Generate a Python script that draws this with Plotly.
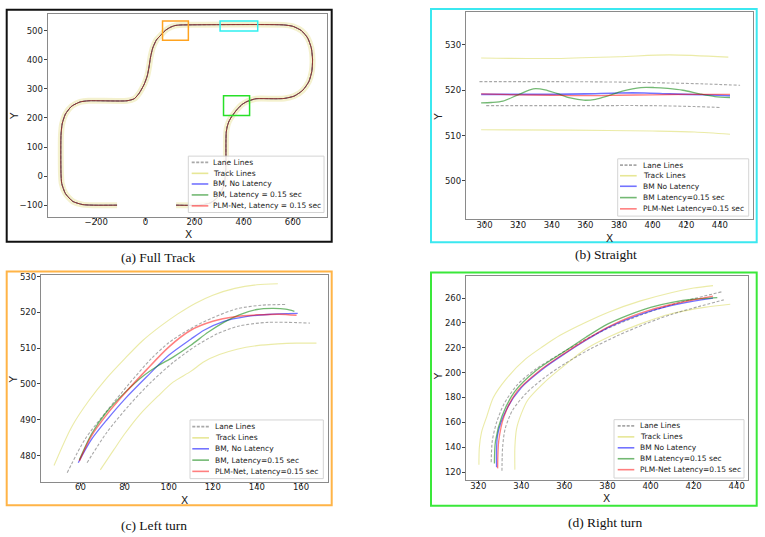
import plotly.graph_objects as go

W, H = 765, 537

# ---------------- DATA ----------------
# (a) Full track - centre line of the road
TRACK_A_X = [-115, -210, -255, -295, -325, -340, -343, -343, -338, -325, -300, -265, -230,
             -75, -45, -25, -5, 8, 15, 21, 30, 45, 60, 80, 100, 120, 140, 160,
             560, 600, 635, 660, 675, 680, 677, 665, 640, 605, 565, 530,
             450, 429, 410, 390, 370, 350, 340, 333, 329, 328, 327, 320, 300, 265, 220, 125]
TRACK_A_Y = [-100, -100, -98, -87, -60, -25, 10, 140, 180, 213, 240, 255, 259,
             259, 266, 285, 315, 345, 375, 408, 440, 468, 482, 500, 511, 517.5, 519.5, 520,
             520, 515, 500, 475, 440, 400, 360, 325, 295, 275, 267, 266,
             266, 261, 255, 244, 226, 203, 188, 170, 150, 124, 20, -30, -68, -92, -100, -100]
# zoom windows drawn on (a): x0, x1, y0, y1
BOX_LEFT = [70, 175, 467, 533]
BOX_STRAIGHT = [304, 457, 499, 533]
BOX_RIGHT = [318, 424, 208, 276]

# (b) Straight
B_LANE_UP_X = [297, 340, 380, 410, 430, 452]
B_LANE_UP_Y = [521.9, 521.9, 521.8, 521.6, 521.4, 521.1]
B_LANE_LO_X = [301, 350, 400, 425, 440]
B_LANE_LO_Y = [516.6, 516.6, 516.6, 516.4, 516.2]
B_TRACK_UP_X = [298, 340, 380, 410, 445]
B_TRACK_UP_Y = [527.1, 527.0, 527.4, 527.8, 527.3]
B_TRACK_LO_X = [298, 350, 400, 425, 446]
B_TRACK_LO_Y = [511.3, 511.2, 511.0, 510.8, 510.3]
B_BLUE_X = [298, 320, 340, 360, 380, 395, 410, 430, 446]
B_BLUE_Y = [519.1, 519.1, 519.1, 519.2, 519.4, 519.4, 519.2, 519.0, 518.8]
B_GREEN_X = [298, 304, 311, 320, 329, 336, 343, 351, 359, 366, 373, 382, 393, 401, 409, 418, 428, 437, 446]
B_GREEN_Y = [517.2, 517.3, 517.6, 519.0, 520.3, 520.1, 519.3, 518.3, 517.8, 518.0, 518.7, 519.8,
             520.6, 520.6, 520.4, 520.0, 519.2, 518.6, 518.4]
B_RED_X = [298, 320, 340, 360, 380, 400, 420, 446]
B_RED_Y = [519.2, 519.0, 518.9, 518.8, 518.9, 519.0, 519.1, 519.1]

# (c) Left turn
C_TRACK_UP_X = [48, 56, 64, 72, 80, 88, 96, 104, 112, 120, 130, 140, 149.5]
C_TRACK_UP_Y = [477.2, 488, 495.5, 501.7, 507, 512, 516, 519.5, 522.5, 524.8, 526.7, 527.7, 528]
C_TRACK_LO_X = [69, 75, 80, 87, 95, 102, 110, 116, 123, 131, 140, 149.5, 158, 167]
C_TRACK_LO_Y = [476, 481.5, 486, 491.5, 496.5, 500.5, 503.5, 506.2, 508.2, 509.7, 510.7, 511.2, 511.4, 511.4]
C_LANE_UP_X = [54, 62, 72, 82, 92, 100, 110, 120, 131, 142, 153]
C_LANE_UP_Y = [475.2, 484.5, 492.5, 500, 507, 511.5, 515.5, 518.5, 521, 522, 522.2]
C_LANE_LO_X = [63, 72, 82, 92, 102, 112, 122, 132, 145, 164]
C_LANE_LO_Y = [478, 486.5, 494, 500.5, 506, 510.5, 514, 516.2, 517.2, 517]
C_BLUE_X = [59, 65, 72, 80, 90, 100, 110, 116, 125, 135, 145, 158.5]
C_BLUE_Y = [478, 484.5, 490, 495.7, 502, 508, 512.5, 515, 517.5, 518.8, 519.4, 519.7]
C_GREEN_X = [59.5, 65, 72, 80, 88, 95, 102, 110, 118, 125, 132, 140, 147, 153, 157]
C_GREEN_Y = [478.8, 486, 492.3, 497.5, 502, 505, 507.5, 510.8, 514.5, 517.2, 519.3, 520.8, 521.1, 520.9, 520.3]
C_RED_X = [59.5, 65, 72, 80, 90, 100, 110, 120, 130, 140, 150, 158]
C_RED_Y = [478.5, 485.5, 491.5, 497.3, 504, 510.3, 515, 517.5, 518.8, 519.3, 519.5, 519.2]

# (d) Right turn
D_TRACK_UP_X = [320.3, 320.5, 321.5, 324, 327, 333, 342, 350, 358, 370, 381, 395, 410, 420, 429]
D_TRACK_UP_Y = [126, 140, 152, 165, 180, 195, 211, 221, 230, 240.5, 249, 257.5, 264.5, 268, 270]
D_TRACK_LO_X = [337, 337, 337.8, 340, 343, 350, 358, 370, 381, 395, 410, 425, 437]
D_TRACK_LO_Y = [122, 140, 155, 167, 178, 191, 203, 219, 229, 239, 247.5, 252.5, 255]
D_LANE_UP_X = [326, 326.5, 328.5, 332, 338, 346, 356, 368, 380, 392, 405, 418, 433]
D_LANE_UP_Y = [128, 145, 160, 175, 190, 202, 213, 225, 235.5, 244, 252, 258.5, 265]
D_LANE_LO_X = [331, 331.3, 332.5, 336, 342, 350, 360, 372, 385, 398, 410, 422, 434]
D_LANE_LO_Y = [121, 140, 155, 170, 183, 195, 207, 219, 230, 239.5, 247, 253, 258.5]
D_BLUE_X = [328.5, 329, 333, 340, 350, 360, 370, 380, 390, 400, 410, 420, 429]
D_BLUE_Y = [124, 150, 170, 188, 203, 215, 226, 236, 243.5, 249.5, 254, 257.5, 260]
D_GREEN_X = [327.5, 328, 331, 337, 347, 360, 370, 380, 390, 400, 410, 420, 431]
D_GREEN_Y = [127, 145, 165, 185, 202, 217, 228.5, 239, 246.5, 252.5, 256.5, 259, 260.3]
D_RED_X = [329, 329.5, 332, 338, 348, 360, 370, 380, 390, 400, 410, 420, 429]
D_RED_Y = [123, 145, 165, 185, 201, 215.5, 226.5, 236.5, 244.5, 250.5, 255, 258.5, 261.5]

LEGEND_A = ["Lane Lines", "Track Lines", "BM, No Latency", "BM, Latency = 0.15 sec",
            "PLM-Net, Latency = 0.15 sec"]
LEGEND_B = ["Lane Lines", "Track Lines", "BM No Latency", "BM Latency=0.15 sec",
            "PLM-Net Latency=0.15 sec"]
LEGEND_C = ["Lane Lines", "Track Lines", "BM, No Latency", "BM, Latency=0.15 sec",
            "PLM-Net, Latency=0.15 sec"]
LEGEND_D = ["Lane Lines", "Track Lines", "BM No Latency", "BM Latency=0.15 sec",
            "PLM-Net Latency=0.15 sec"]
CAPTIONS = ["(a) Full Track", "(b) Straight", "(c) Left turn", "(d) Right turn"]

# ---------------- STYLE ----------------
C_LANE = "rgba(110,110,110,0.6)"
C_TRACK = "rgba(215,215,80,0.5)"
C_BLUE = "rgba(0,0,255,0.55)"
C_GREEN = "rgba(0,128,0,0.55)"
C_RED = "rgba(255,0,0,0.5)"
SANS = "DejaVu Sans"


def fx(px):
    return px / W


def fy(py):
    return 1 - py / H


fig = go.Figure()


def line(x, y, ax, color, width=1.1, dash=None, shape="spline", smoothing=0.8):
    fig.add_trace(go.Scatter(
        x=x, y=y, mode="lines", xaxis="x" + ax, yaxis="y" + ax, showlegend=False,
        hoverinfo="skip",
        line=dict(color=color, width=width, dash=dash, shape=shape, smoothing=smoothing)))


DASH = "3px,1.8px"

# (a)
line(TRACK_A_X, TRACK_A_Y, "", "rgba(240,236,190,0.75)", width=6, smoothing=0.6)
line(TRACK_A_X, TRACK_A_Y, "", C_LANE, width=1, dash=DASH, smoothing=0.6)
line(TRACK_A_X, TRACK_A_Y, "", C_BLUE, width=1, smoothing=0.6)
line(TRACK_A_X, TRACK_A_Y, "", C_GREEN, width=1, smoothing=0.6)
line(TRACK_A_X, TRACK_A_Y, "", C_RED, width=1, smoothing=0.6)

# (b)
line(B_TRACK_UP_X, B_TRACK_UP_Y, "2", C_TRACK)
line(B_TRACK_LO_X, B_TRACK_LO_Y, "2", C_TRACK)
line(B_LANE_UP_X, B_LANE_UP_Y, "2", C_LANE, dash=DASH)
line(B_LANE_LO_X, B_LANE_LO_Y, "2", C_LANE, dash=DASH)
line(B_BLUE_X, B_BLUE_Y, "2", C_BLUE, width=1.6)
line(B_GREEN_X, B_GREEN_Y, "2", C_GREEN, width=1.3)
line(B_RED_X, B_RED_Y, "2", C_RED, width=1.3)

# (c)
line(C_TRACK_UP_X, C_TRACK_UP_Y, "3", C_TRACK)
line(C_TRACK_LO_X, C_TRACK_LO_Y, "3", C_TRACK)
line(C_LANE_UP_X, C_LANE_UP_Y, "3", C_LANE, dash=DASH)
line(C_LANE_LO_X, C_LANE_LO_Y, "3", C_LANE, dash=DASH)
line(C_BLUE_X, C_BLUE_Y, "3", C_BLUE, width=1.3)
line(C_GREEN_X, C_GREEN_Y, "3", C_GREEN, width=1.3)
line(C_RED_X, C_RED_Y, "3", C_RED, width=1.5)

# (d)
line(D_TRACK_UP_X, D_TRACK_UP_Y, "4", C_TRACK)
line(D_TRACK_LO_X, D_TRACK_LO_Y, "4", C_TRACK)
line(D_LANE_UP_X, D_LANE_UP_Y, "4", C_LANE, dash=DASH)
line(D_LANE_LO_X, D_LANE_LO_Y, "4", C_LANE, dash=DASH)
line(D_BLUE_X, D_BLUE_Y, "4", C_BLUE, width=1.3)
line(D_GREEN_X, D_GREEN_Y, "4", C_GREEN, width=1.3)
line(D_RED_X, D_RED_Y, "4", C_RED, width=1.3)

axis_style = dict(showline=True, mirror=True, linecolor="#8a8a8a", linewidth=1.2,
                  ticks="outside", ticklen=3, tickwidth=0.8, tickcolor="#444",
                  showgrid=False, zeroline=False, fixedrange=True,
                  tickfont=dict(family=SANS, size=8.5, color="#222"))

# plot areas (pixels): left, top, right, bottom
AREAS = {
    "": (47.7, 10.7, 327.3, 215.0),
    "2": (466.0, 9.3, 752.7, 217.7),
    "3": (41.0, 273.3, 327.7, 481.7),
    "4": (466.0, 274.3, 748.3, 480.0),
}
RANGES = {
    "": ([-397, 740], [-140, 558.6], 200, 100),
    "2": ([289, 459.5], [491.5, 537.2], 20, 10),
    "3": ([42.1, 172.1], [472.6, 530.5], 20, 10),
    "4": ([314.3, 445.4], [113.4, 277.9], 20, 20),
}
lay = {}
for k, (l, t, r, b) in AREAS.items():
    xr, yr, dx, dy = RANGES[k]
    lay["xaxis" + k] = dict(axis_style, domain=[fx(l), fx(r)], range=xr, dtick=dx,
                            ticklabelstandoff=-6, anchor="y" + (k if k else ""))
    lay["yaxis" + k] = dict(axis_style, domain=[fy(b), fy(t)], range=yr, dtick=dy,
                            ticklabelstandoff=-1, anchor="x" + (k if k else ""))
fig.update_layout(**lay)

shapes = []
annotations = []

# outer coloured frames of the four panels
FRAMES = [((6.7, 6.7, 331.7, 240.0), "#111111"),
          ((431.0, 6.0, 756.7, 240.7), "#3be8f0"),
          ((6.7, 270.0, 331.7, 505.0), "#ffb447"),
          ((431.0, 271.0, 756.7, 505.7), "#3ae83a")]
for (l, t, r, b), col in FRAMES:
    shapes.append(dict(type="rect", xref="paper", yref="paper", x0=fx(l), x1=fx(r),
                       y0=fy(b), y1=fy(t), line=dict(color=col, width=2)))

# zoom windows on the full track
for box, col in [(BOX_LEFT, "#ffa31f"), (BOX_STRAIGHT, "#2ff0f0"), (BOX_RIGHT, "#28e028")]:
    shapes.append(dict(type="rect", xref="x", yref="y", x0=box[0], x1=box[1],
                       y0=box[2], y1=box[3], line=dict(color=col, width=1.5)))

# captions
for txt, (cx, cy) in zip(CAPTIONS, [(158, 256), (605.7, 253), (154, 525), (605, 522.7)]):
    annotations.append(dict(text=txt, xref="paper", yref="paper", x=fx(cx), y=fy(cy),
                            showarrow=False, xanchor="center", yanchor="middle",
                            font=dict(family="Liberation Serif", size=13.5, color="#111")))

# axis titles
for (xx, xy), (yx, yy) in [((188.3, 232.3), (13.3, 113.3)), ((609.3, 236), (438.3, 114)),
                           ((184.3, 499.3), (13.3, 378.3)), ((606.7, 497.7), (438.3, 375))]:
    annotations.append(dict(text="X", xref="paper", yref="paper", x=fx(xx), y=fy(xy),
                            showarrow=False, xanchor="center", yanchor="middle",
                            font=dict(family=SANS, size=10.5, color="#222")))
    annotations.append(dict(text="Y", xref="paper", yref="paper", x=fx(yx), y=fy(yy),
                            showarrow=False, textangle=-90, xanchor="center", yanchor="middle",
                            font=dict(family=SANS, size=10.5, color="#222")))

# legends (drawn by hand to keep matplotlib's compact row spacing)
SAMPLE_STYLES = [(C_LANE, "dot"), ("rgba(215,215,80,0.6)", "solid"), (C_BLUE, "solid"),
                 (C_GREEN, "solid"), (C_RED, "solid")]
LEGENDS = [
    (LEGEND_A, (188.3, 154.0, 324.0, 210.7), [160.3, 171.3, 182.0, 193.0, 204.0], (191.7, 208.3), 211.0),
    (LEGEND_B, (617.7, 156.7, 748.7, 214.3), [163.0, 173.7, 184.3, 195.7, 207.0], (620.0, 636.7), 640.5),
    (LEGEND_C, (190.0, 419.3, 323.3, 478.3), [426.0, 437.3, 448.3, 459.7, 471.0], (192.3, 209.0), 213.2),
    (LEGEND_D, (614.0, 419.0, 744.0, 477.7), [425.3, 436.3, 447.3, 458.3, 469.3], (617.7, 634.3), 637.5),
]
for labels, (l, t, r, b), rows, (s0, s1), tx in LEGENDS:
    shapes.append(dict(type="rect", xref="paper", yref="paper", x0=fx(l), x1=fx(r),
                       y0=fy(b), y1=fy(t), fillcolor="rgba(255,255,255,0.85)",
                       line=dict(color="#d4d4d4", width=1)))
    for lab, ry, (col, dash) in zip(labels, rows, SAMPLE_STYLES):
        shapes.append(dict(type="line", xref="paper", yref="paper", x0=fx(s0), x1=fx(s1),
                           y0=fy(ry), y1=fy(ry),
                           line=dict(color=col, width=1.6, dash="3px,1.5px" if dash == "dot" else "solid")))
        annotations.append(dict(text=lab, xref="paper", yref="paper", x=fx(tx), y=fy(ry),
                                showarrow=False, xanchor="left", yanchor="middle",
                                font=dict(family=SANS, size=7.5, color="#222")))

fig.update_layout(width=W, height=H, margin=dict(l=0, r=0, t=0, b=0),
                  paper_bgcolor="white", plot_bgcolor="white", showlegend=False,
                  shapes=shapes, annotations=annotations)

fig.write_html("out.html")
